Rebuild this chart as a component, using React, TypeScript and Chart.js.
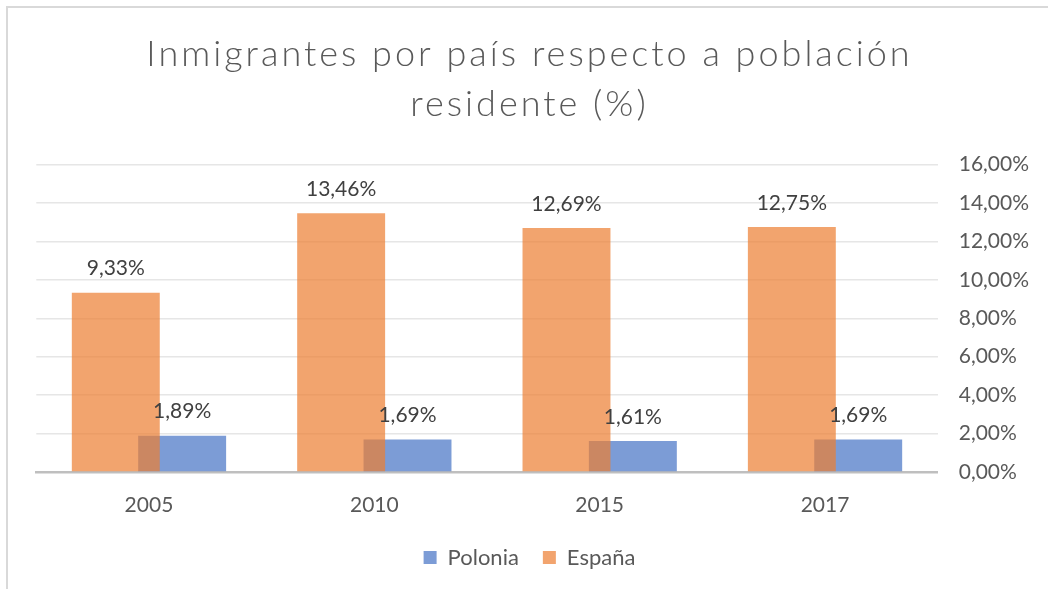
import React, { useEffect, useRef } from "react";
import { Chart, registerables } from "chart.js";

Chart.register(...registerables);

const years = ["2005", "2010", "2015", "2017"];
const espana = [9.33, 13.46, 12.69, 12.75];
const polonia = [1.89, 1.69, 1.61, 1.69];
const titleLines = ["Inmigrantes por país respecto a población", "residente (%)"];

const FONT = "Lato, 'Open Sans', sans-serif";
const fmt = (v: number) => v.toFixed(2).replace(".", ",") + "%";

const labelPlugin = {
  id: "barLabels",
  beforeDraw(chart: any) {
    const tb = chart.titleBlock;
    if (tb && !tb.__wrapped) {
      const orig = tb.draw;
      tb.draw = function (...args: any[]) {
        const ctx = chart.ctx;
        ctx.save();
        (ctx as any).letterSpacing = "3px";
        orig.apply(this, args);
        ctx.restore();
      };
      tb.__wrapped = true;
    }
  },
  afterDatasetsDraw(chart: any) {
    const ctx = chart.ctx;
    ctx.save();
    ctx.font = `21px ${FONT}`;
    ctx.fillStyle = "#404040";
    ctx.textAlign = "center";
    ctx.textBaseline = "middle";
    chart.data.datasets.forEach((ds: any, di: number) => {
      const meta = chart.getDatasetMeta(di);
      meta.data.forEach((bar: any, i: number) => {
        ctx.fillText(fmt(ds.data[i]), bar.x, bar.y - 24);
      });
    });
    ctx.restore();
  },
};

export default function App() {
  const ref = useRef<HTMLCanvasElement>(null);
  useEffect(() => {
    if (!ref.current) return;
    const chart = new Chart(ref.current, {
      type: "bar",
      data: {
        labels: years,
        datasets: [
          {
            label: "España",
            data: espana,
            backgroundColor: "rgba(237,125,49,0.7)",
            borderWidth: 0,
          },
          {
            label: "Polonia",
            data: polonia,
            backgroundColor: "rgba(68,114,196,0.7)",
            borderWidth: 0,
          },
        ],
      },
      options: {
        responsive: false,
        animation: false,
        maintainAspectRatio: false,
        layout: { padding: { left: 36.3, right: 25.3, top: 0, bottom: 10.5 } },
        datasets: {
          bar: { categoryPercentage: 0.589, barPercentage: 1.325 },
        } as any,
        plugins: {
          title: {
            display: true,
            text: titleLines,
            color: "#595959",
            font: { family: FONT, size: 36, weight: "300", lineHeight: 50 / 36 },
            padding: { top: 29, bottom: 35.5 },
          },
          legend: {
            position: "bottom",
            reverse: true,
            labels: {
              color: "#595959",
              font: { family: FONT, size: 22 },
              boxWidth: 13,
              boxHeight: 13,
              padding: 24,
            },
          },
          tooltip: { enabled: false },
        },
        scales: {
          x: {
            grid: { display: false },
            border: { color: "#BFBFBF", width: 2.5 },
            ticks: { color: "#595959", font: { family: FONT, size: 21 }, padding: 13 },
            afterFit: (s: any) => {
              s.height = 50.5;
            },
          },
          y: {
            position: "right",
            min: 0,
            max: 16,
            grid: { color: "#E6E6E6", drawTicks: false, lineWidth: 1.5 },
            border: { display: false },
            ticks: {
              stepSize: 2,
              color: "#595959",
              font: { family: FONT, size: 21 },
              padding: 21,
              callback: (v: any) => fmt(Number(v)),
            },
            afterFit: (s: any) => {
              s.width = 85;
              s._computeLabelArea = () => undefined;
            },
          },
        },
      },
      plugins: [labelPlugin],
    });
    return () => chart.destroy();
  }, []);

  return (
    <div style={{ position: "absolute", left: 0, top: 0, width: 1048, height: 589, overflow: "hidden", background: "#fff" }}>
      <div
        style={{
          position: "absolute",
          left: 6,
          top: 6,
          width: 1100,
          height: 700,
          borderTop: "2px solid #D9D9D9",
          borderLeft: "2px solid #D9D9D9",
          pointerEvents: "none",
        }}
      />
      <canvas ref={ref} width={1048} height={589} style={{ position: "absolute", left: 0, top: 0 }} />
    </div>
  );
}
